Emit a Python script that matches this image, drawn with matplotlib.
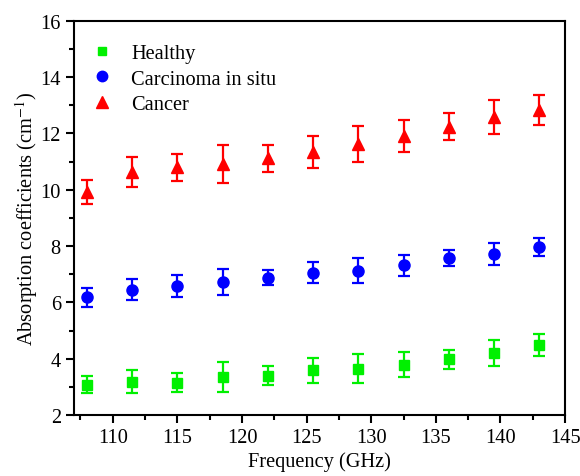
import matplotlib
matplotlib.use("Agg")
import matplotlib.pyplot as plt
from matplotlib.ticker import MultipleLocator
from matplotlib.lines import Line2D

freq = [108, 111.5, 115, 118.5, 122, 125.5, 129, 132.5, 136, 139.5, 143]
healthy = [3.08, 3.18, 3.14, 3.35, 3.40, 3.58, 3.65, 3.79, 3.98, 4.20, 4.50]
healthy_err = [0.31, 0.40, 0.34, 0.52, 0.35, 0.43, 0.50, 0.43, 0.34, 0.46, 0.39]
cis = [6.18, 6.45, 6.58, 6.73, 6.88, 7.05, 7.12, 7.32, 7.58, 7.71, 7.96]
cis_err = [0.34, 0.37, 0.40, 0.46, 0.28, 0.37, 0.44, 0.37, 0.28, 0.40, 0.33]
cancer = [9.92, 10.62, 10.80, 10.92, 11.12, 11.34, 11.63, 11.90, 12.23, 12.58, 12.84]
cancer_err = [0.44, 0.54, 0.48, 0.68, 0.48, 0.57, 0.64, 0.57, 0.48, 0.60, 0.53]
labels = ['Healthy', 'Carcinoma in situ', 'Cancer']
colors = ['#00f000', '#0000ff', '#ff0000']
markers = ['s', 'o', '^']

plt.rcParams['font.family'] = ['Liberation Serif', 'DejaVu Serif']
plt.rcParams['mathtext.fontset'] = 'stix'

FS = 14.7
fig = plt.figure(figsize=(5.8, 4.77), dpi=100)
ax = fig.add_axes([0.1276, 0.1279, 0.8466, 0.8266])

kw = dict(linestyle='none', capsize=4, elinewidth=1.6, capthick=1.6)
ax.errorbar(freq, healthy, yerr=healthy_err, fmt='s', color=colors[0], ms=7, **kw)
ax.errorbar(freq, cis, yerr=cis_err, fmt='o', color=colors[1], ms=8, **kw)
ax.errorbar(freq, cancer, yerr=cancer_err, fmt='^', color=colors[2], ms=8.5, **kw)

ax.set_xlim(107, 145)
ax.set_ylim(2, 16)
ax.xaxis.set_major_locator(MultipleLocator(5))
ax.xaxis.set_minor_locator(MultipleLocator(2.5))
ax.yaxis.set_major_locator(MultipleLocator(2))
ax.yaxis.set_minor_locator(MultipleLocator(1))
ax.tick_params(which='both', direction='out', width=1.5, labelsize=FS, top=False, right=False)
ax.tick_params(which='major', length=6)
ax.tick_params(which='minor', length=3.5)
for s in ax.spines.values():
    s.set_linewidth(1.5)

ax.set_xlabel('Frequency (GHz)', fontsize=FS, labelpad=3)
ax.set_ylabel('Absorption coefficients (cm$^{-1}$)', fontsize=FS, labelpad=0)

sizes = [6, 7.5, 8]
handles = [Line2D([], [], linestyle='none', marker=m, color=c, ms=s)
           for m, c, s in zip(markers, colors, sizes)]
ax.legend(handles, labels, loc='upper left', bbox_to_anchor=(0.019, 0.962), frameon=False,
          fontsize=FS, handlelength=1.0, handletextpad=0.94, labelspacing=0.3,
          borderaxespad=0.0, borderpad=0.4)

fig.savefig('out.png', dpi=100)
